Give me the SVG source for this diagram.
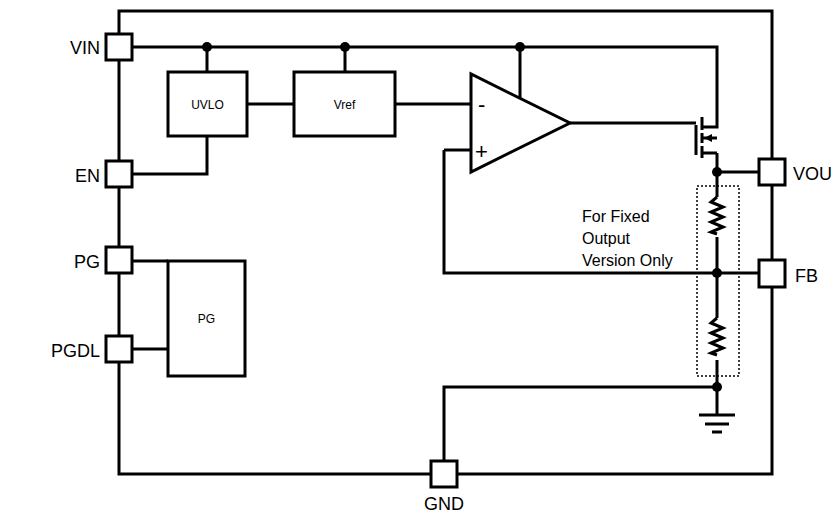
<svg xmlns="http://www.w3.org/2000/svg" width="840" height="518" viewBox="0 0 840 518">
<style>
.w{fill:none;stroke:#000;stroke-width:3}
.b{fill:#fff;stroke:#000;stroke-width:3}
.t{font-family:"Liberation Sans",Arial,sans-serif;fill:#000}
.l{font-size:18px}
.s{font-size:12px}
</style>
<rect width="840" height="518" fill="#fff"/>
<g id="connectors">
<rect x="119" y="11" width="653" height="463" class="w"/>
<path class="w" d="M132 47H717V127H702M207 47V72M345 47V72M520 47V98M247 104H294M395 104H471M570 123H696M132 174H207V136M444 150H471M444 150V273H759M717 153V172M717 172H759M132 261H168M132 349H168M444 461V387H717M717 172V197M717 237V318M717 360V415"/>
<path class="w" d="M717 197l-6 5 12 5-12 5 12 5-12 5 12 5-12 5 6 2M717 318l-6 5 12 5-12 5 12 5-12 5 12 5-12 5 6 2"/>
<path class="w" d="M696 125V155M702 117V130M702 133V143M702 146V158M702 138H717M702 153H717"/>
<path d="M704 138l8-4v8z"/>
<path class="w" d="M699 415H735M705 424H729M712 432H722"/>
<rect x="697" y="186" width="42" height="190" fill="none" stroke="#000" stroke-width="1.5" stroke-dasharray="2,2"/>
<g fill="#000"><circle cx="207" cy="47" r="5"/><circle cx="345" cy="47" r="5"/><circle cx="520" cy="47" r="5"/><circle cx="717" cy="172" r="5"/><circle cx="717" cy="273" r="5"/><circle cx="717" cy="387" r="5"/></g>
</g>
<g id="UVLO"><rect x="168" y="72" width="79" height="64" class="b"/><text x="207.5" y="109" class="t s" text-anchor="middle">UVLO</text></g>
<g id="Vref"><rect x="294" y="72" width="101" height="64" class="b"/><text x="344.5" y="109" class="t s" text-anchor="middle">Vref</text></g>
<g id="opamp"><path d="M471 74V172L570 123Z" class="b"/><text x="478" y="112" class="t" font-size="22">-</text><text x="475" y="159" class="t" font-size="22">+</text></g>
<g id="PGblock"><rect x="168" y="261" width="77" height="115" class="b"/><text x="206.5" y="323" class="t s" text-anchor="middle">PG</text></g>
<g id="pins">
<rect x="106" y="34" width="26" height="26" class="b"/><text x="100" y="54" class="t l" text-anchor="end">VIN</text>
<rect x="106" y="161" width="26" height="26" class="b"/><text x="100" y="182" class="t l" text-anchor="end">EN</text>
<rect x="106" y="247" width="26" height="26" class="b"/><text x="100" y="268" class="t l" text-anchor="end">PG</text>
<rect x="106" y="336" width="26" height="26" class="b"/><text x="100" y="357" class="t l" text-anchor="end">PGDL</text>
<rect x="431" y="461" width="26" height="26" class="b"/><text x="444" y="510" class="t l" text-anchor="middle">GND</text>
<rect x="759" y="159" width="26" height="26" class="b"/><text x="793" y="180" class="t l">VOU</text>
<rect x="759" y="260" width="26" height="27" class="b"/><text x="795" y="282" class="t l">FB</text>
</g>
<g id="note" class="t" font-size="16"><text x="582" y="222">For Fixed</text><text x="582" y="244">Output</text><text x="582" y="266">Version Only</text></g>
</svg>
